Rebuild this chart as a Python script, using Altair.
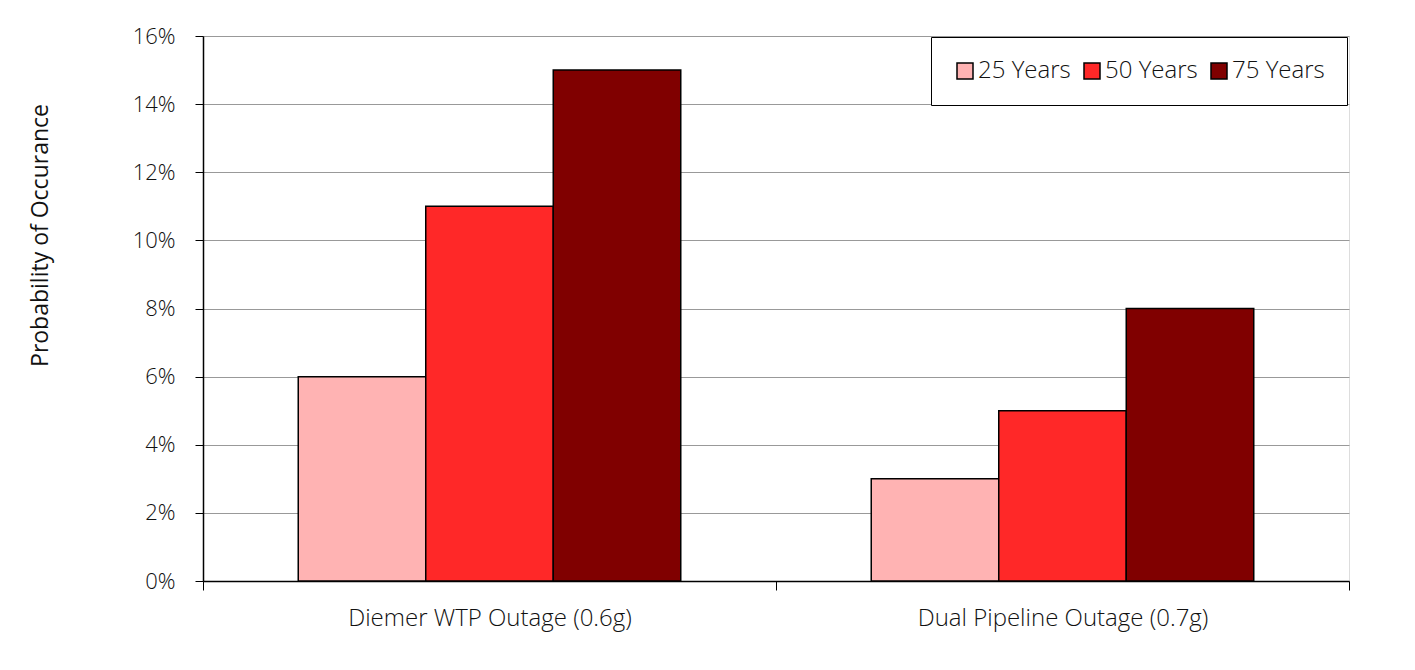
import altair as alt
import pandas as pd

categories = ["Diemer WTP Outage (0.6g)", "Dual Pipeline Outage (0.7g)"]
series = ["25 Years", "50 Years", "75 Years"]
vals_25 = [0.06, 0.03]
vals_50 = [0.11, 0.05]
vals_75 = [0.15, 0.08]
colors = ["#FFB3B3", "#FF2828", "#800000"]
y_ticks = [0, 0.02, 0.04, 0.06, 0.08, 0.10, 0.12, 0.14, 0.16]

rows = []
for s, vals in zip(series, [vals_25, vals_50, vals_75]):
    for c, v in zip(categories, vals):
        rows.append({"category": c, "series": s, "value": v})
df = pd.DataFrame(rows)

FONT = "Open Sans"

chart = alt.Chart(df).mark_bar(stroke="black", strokeWidth=1.5).encode(
    x=alt.X("category:N", sort=categories,
            scale=alt.Scale(paddingInner=0, paddingOuter=0),
            axis=alt.Axis(title=None, labelAngle=0, tickBand="extent", tickSize=9,
                          labelPadding=16, labelFontSize=24, labelFont=FONT,
                          labelFontWeight=300, labelLimit=0,
                          labelColor="#111", domainColor="black", tickColor="black",
                          domainWidth=1.5, grid=False)),
    xOffset=alt.XOffset("series:N", sort=series,
                        scale=alt.Scale(paddingInner=0, paddingOuter=0.747)),
    y=alt.Y("value:Q", scale=alt.Scale(domain=[0, 0.16], nice=False),
            axis=alt.Axis(format=".0%", values=y_ticks, title="Probability of Occurance",
                          titleFont=FONT, titleFontSize=23, titleFontWeight="normal",
                          titleColor="#111", titleAngle=270, titleX=-163, titleY=199,
                          titleAlign="center", titleBaseline="middle",
                          labelFont=FONT, labelFontSize=22, labelFontWeight=300,
                          labelColor="#111",
                          labelPadding=20, tickSize=8, tickColor="black",
                          domainColor="black", domainWidth=1.5,
                          grid=True, gridColor="#999999", gridWidth=1)),
    color=alt.Color("series:N", sort=series,
                    scale=alt.Scale(domain=series, range=colors),
                    legend=alt.Legend(title=None, orient="none", legendX=728, legendY=1,
                                      direction="horizontal", symbolType="square",
                                      symbolSize=256, symbolStrokeColor="black",
                                      symbolStrokeWidth=1.5, symbolOpacity=1,
                                      labelFont=FONT, labelFontSize=24, labelFontWeight=300,
                                      labelColor="#111",
                                      labelOffset=1, columnPadding=9, padding=22,
                                      strokeColor="black",
                                      fillColor="white")),
).properties(
    width=1146, height=545,
    autosize=alt.AutoSizeParams(type="none"),
    padding={"left": 195, "top": 28, "right": 58, "bottom": 81},
).configure_view(stroke="black", strokeWidth=1.5).configure_legend(
    strokeWidth=2
).configure(background="white")

chart.save("out.html", embed_options={"renderer": "svg", "actions": False})
